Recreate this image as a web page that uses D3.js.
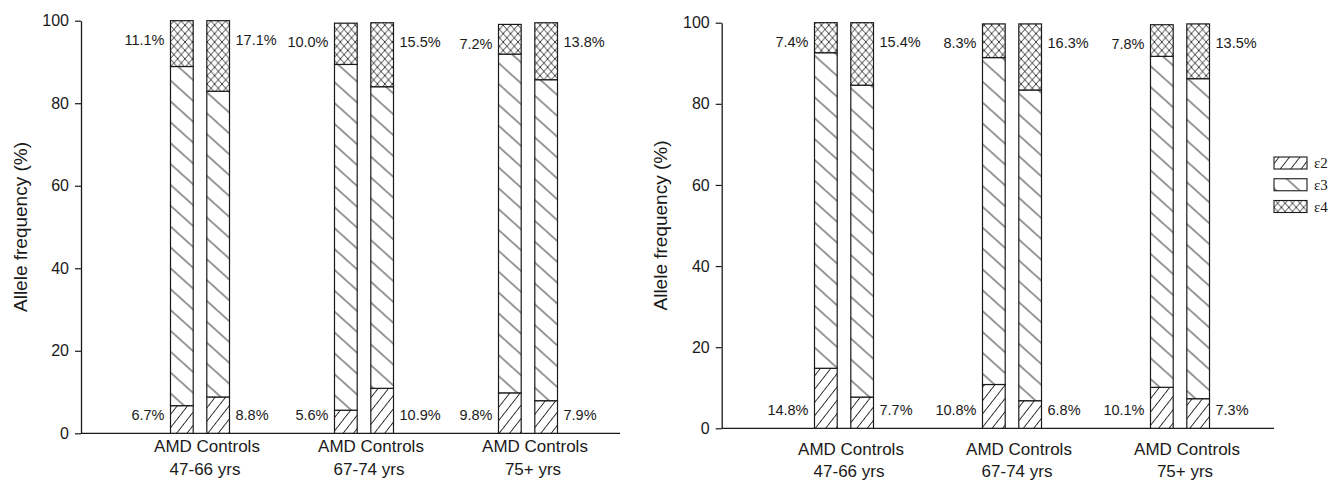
<!DOCTYPE html>
<html><head><meta charset="utf-8">
<script src="https://cdn.jsdelivr.net/npm/d3@7"></script>
<style>
html,body{margin:0;padding:0;background:#fff;}
svg{display:block;}
text{font-family:"Liberation Sans",Arial,sans-serif;fill:#1a1a1a;}
</style></head>
<body>
<svg id="chart" width="1332" height="481"></svg>
<script>
// ---- data ----
const groups = ["47-66 yrs", "67-74 yrs", "75+ yrs"];
const subgroups = ["AMD", "Controls"];
const alleles = ["ε2", "ε3", "ε4"];
const yTicks = [0, 20, 40, 60, 80, 100];

// left panel: [AMD, Controls] per age group
const leftE2 = [[6.7, 8.8], [5.6, 10.9], [9.8, 7.9]];
const leftE3 = [[82.2, 74.1], [83.8, 73.1], [82.1, 77.8]];
const leftE4 = [[11.1, 17.1], [10.0, 15.5], [7.2, 13.8]];
// right panel
const rightE2 = [[14.8, 7.7], [10.8, 6.8], [10.1, 7.3]];
const rightE3 = [[77.8, 76.9], [80.6, 76.6], [81.6, 78.9]];
const rightE4 = [[7.4, 15.4], [8.3, 16.3], [7.8, 13.5]];

// ---- drawing ----
const svg = d3.select("#chart");
const defs = svg.append("defs");
const ink = "#1a1a1a";

function hatch(id, angle, spacing) {
  const p = defs.append("pattern").attr("id", id)
    .attr("patternUnits", "userSpaceOnUse")
    .attr("width", 40).attr("height", spacing)
    .attr("patternTransform", `rotate(${angle})`);
  p.append("rect").attr("width", 40).attr("height", spacing).attr("fill", "#fff");
  p.append("line").attr("x1", 0).attr("x2", 40)
    .attr("y1", spacing / 2).attr("y2", spacing / 2)
    .attr("stroke", ink).attr("stroke-width", 0.9);
}
hatch("pE2", -52, 8.2);
hatch("pE3", 42, 15.5);
(function cross() {
  const w = 7.4, h = 8.4;
  const p = defs.append("pattern").attr("id", "pE4")
    .attr("patternUnits", "userSpaceOnUse").attr("width", w).attr("height", h);
  p.append("rect").attr("width", w).attr("height", h).attr("fill", "#fff");
  p.append("line").attr("x1", 0).attr("y1", 0).attr("x2", w).attr("y2", h)
    .attr("stroke", ink).attr("stroke-width", 0.85);
  p.append("line").attr("x1", w).attr("y1", 0).attr("x2", 0).attr("y2", h)
    .attr("stroke", ink).attr("stroke-width", 0.85);
})();
const fills = {"ε2": "url(#pE2)", "ε3": "url(#pE3)", "ε4": "url(#pE4)"};

function panel(cfg) {
  const {e2, e3, e4, axisX, axisEnd, y0, y100, g0, g1, subBase, yrsBase} = cfg;
  const y = d3.scaleLinear().domain([0, 100]).range([y0, y100]);
  const gx = d3.scalePoint().domain(groups).range([g0, g1]);
  const sx = d3.scaleBand().domain(subgroups).range([-29.5, 29.5]).paddingInner(0.375);
  const g = svg.append("g");

  const rows = [];
  groups.forEach((grp, i) => subgroups.forEach((sg, j) => {
    rows.push({grp, sg, "ε2": e2[i][j], "ε3": e3[i][j], "ε4": e4[i][j]});
  }));
  const series = d3.stack().keys(alleles)(rows);

  // x axis baseline
  g.append("line").attr("x1", axisX).attr("x2", axisEnd)
    .attr("y1", y(0)).attr("y2", y(0)).attr("stroke", ink).attr("stroke-width", 1.3);

  // bars
  series.forEach(s => {
    g.selectAll(null).data(s).join("rect")
      .attr("x", d => gx(d.data.grp) + sx(d.data.sg))
      .attr("width", sx.bandwidth())
      .attr("y", d => y(d[1]))
      .attr("height", d => y(d[0]) - y(d[1]))
      .attr("fill", fills[s.key])
      .attr("stroke", ink).attr("stroke-width", 1.2);
  });

  // percentage labels
  const pad = 6;
  rows.forEach(r => {
    const left = r.sg === "AMD";
    const bx = gx(r.grp) + sx(r.sg);
    const tx = left ? bx - pad : bx + sx.bandwidth() + pad;
    const total = r["ε2"] + r["ε3"] + r["ε4"];
    [[r["ε4"], total - 4.6], [r["ε2"], 4.6]].forEach(([v, lvl]) => {
      g.append("text").attr("x", tx).attr("y", y(lvl))
        .attr("dy", "0.36em")
        .attr("text-anchor", left ? "end" : "start")
        .style("font-size", "14.5px")
        .text(v.toFixed(1) + "%");
    });
  });

  // category labels
  groups.forEach(grp => {
    const cx = gx(grp) + 7;
    g.append("text").attr("x", cx).attr("y", subBase).attr("text-anchor", "middle")
      .style("font-size", "17px").text(subgroups.join(" "));
    g.append("text").attr("x", cx - 2).attr("y", yrsBase).attr("text-anchor", "middle")
      .style("font-size", "17px").text(grp);
  });

  // y axis
  const ax = g.append("g").attr("transform", `translate(${axisX},0)`)
    .call(d3.axisLeft(y).tickValues(yTicks).tickSize(6).tickSizeOuter(0).tickPadding(6));
  ax.select(".domain").attr("stroke", ink).attr("stroke-width", 1.3);
  ax.selectAll(".tick line").attr("stroke", ink).attr("stroke-width", 1.2);
  ax.selectAll(".tick text").style("font-size", "16px")
    .style("font-family", '"Liberation Sans",Arial,sans-serif').attr("fill", ink);

  // y title
  g.append("text")
    .attr("transform", `translate(${axisX - 61},${(y(0) + y(100)) / 2}) rotate(-90)`)
    .attr("text-anchor", "middle").attr("dy", "0.35em")
    .style("font-size", "19px").text("Allele frequency (%)");
}

panel({e2: leftE2, e3: leftE3, e4: leftE4, axisX: 81, axisEnd: 620,
  y0: 433.3, y100: 20.7, g0: 200, g1: 528, subBase: 452, yrsBase: 475});
panel({e2: rightE2, e3: rightE3, e4: rightE4, axisX: 721.7, axisEnd: 1274,
  y0: 428.3, y100: 22.7, g0: 844, g1: 1180, subBase: 455, yrsBase: 477});

// legend
const lg = svg.append("g").attr("transform", "translate(1274,157)");
const ly = d3.scalePoint().domain(alleles).range([0, 43.5]);
alleles.forEach(a => {
  lg.append("rect").attr("x", 0).attr("y", ly(a)).attr("width", 33).attr("height", 12)
    .attr("fill", fills[a]).attr("stroke", ink).attr("stroke-width", 1.1);
  lg.append("text").attr("x", 40).attr("y", ly(a) + 6).attr("dy", "0.35em")
    .style("font-family", '"Liberation Serif","Times New Roman",serif')
    .style("font-size", "15px").text(a);
});
</script>
</body></html>
